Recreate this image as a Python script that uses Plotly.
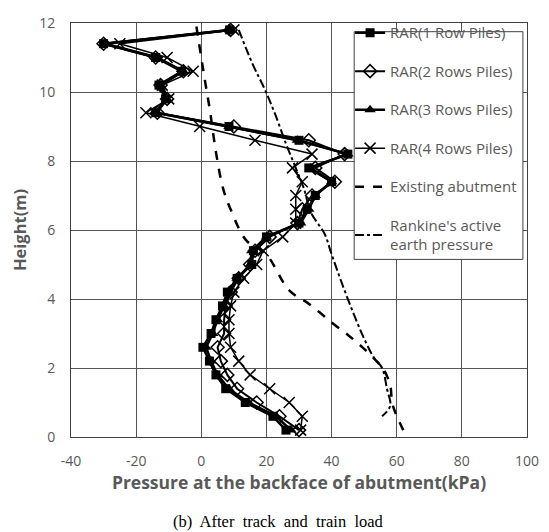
import plotly.graph_objects as go

# heights of the RAR readings (m)
height = [11.8, 11.4, 11.0, 10.6, 10.2, 9.8, 9.4, 9.0, 8.6, 8.2, 7.8, 7.4, 7.0, 6.6, 6.2,
          5.8, 5.4, 5.0, 4.6, 4.2, 3.8, 3.4, 3.0, 2.6, 2.2, 1.8, 1.4, 1.0, 0.6, 0.2]

rar_1row = [8.7, -30, -14, -6, -13, -11, -14, 8.5, 30, 45, 33, 40, 35, 32.5, 30,
            20, 16, 15.5, 11, 8, 6.5, 4.5, 3, 0.5, 2.5, 4.5, 7.5, 13.5, 22, 26]
rar_2rows = [9, -30, -14, -5.5, -12.5, -10.5, -13.5, 10, 33, 44, 35, 41, 34, 31, 29.5,
             21, 16.5, 15, 11.5, 9, 7.5, 7, 7, 5, 6, 8, 11, 17, 24, 30]
rar_3rows = [8.7, -29.5, -13.5, -5.5, -12.5, -10.5, -14, 8.5, 29.5, 45, 33.5, 40, 35, 33, 30.5,
             20, 15.5, 15, 11, 8.5, 7, 5, 3.5, 1.5, 3, 5, 8.5, 14.5, 23, 27.5]
rar_4rows = [10, -25, -10.5, -2.5, -12, -10, -17, -0.5, 16.5, 34, 28, 31, 29, 29, 29,
             25, 19, 17, 13, 10, 9, 8.5, 8.5, 9, 11.5, 15, 21, 27, 31, 30.5]

existing_p = [-1.5, 1, 2.6, 4.6, 6.7, 9, 13.8, 19.9, 27, 33.2, 40.3, 45.4, 49.5, 53.1, 56, 58, 58.7, 62]
existing_h = [11.9, 10.4, 9.5, 8.2, 7.2, 6.6, 5.7, 5.3, 4.25, 3.85, 3.3, 2.93, 2.6, 2.27, 1.95, 1.5, 0.95, 0.2]

rankine_p = [11.5, 15.8, 19.4, 22.5, 26, 29, 31.5, 33.7, 37.8, 40, 43, 47.5, 50.5, 53, 55.5, 57, 58, 55.5]
rankine_h = [11.8, 10.8, 10.1, 9.4, 8.5, 7.8, 7.2, 6.5, 5.9, 5.3, 4.5, 3.4, 2.75, 2.3, 2.0, 1.4, 0.9, 0.6]

x_ticks = [-40, -20, 0, 20, 40, 60, 80, 100]
x_ticktext = ["-40", "-20", "0", "20", "40", "60", "80", "100"]

FONT = "Open Sans"
GREY = "#595959"

fig = go.Figure()

series = [
    ("RAR(1 Row Piles)", rar_1row, dict(symbol="square", size=9, color="black"), 2.5),
    ("RAR(2 Rows Piles)", rar_2rows, dict(symbol="diamond-open", size=10, color="black",
                                         line=dict(width=1.5)), 2.0),
    ("RAR(3 Rows Piles)", rar_3rows, dict(symbol="triangle-up", size=10, color="black"), 2.5),
    ("RAR(4 Rows Piles)", rar_4rows, dict(symbol="x-thin", size=11, color="black",
                                         line=dict(width=1.5, color="black")), 1.5),
]
for i, (name, vals, marker, lw) in enumerate(series):
    fig.add_trace(go.Scatter(
        x=vals, y=height, mode="lines+markers", name=name,
        line=dict(color="black", width=lw), marker=marker, legendgroup=str(i)
    ))

fig.add_trace(go.Scatter(
    x=existing_p, y=existing_h, mode="lines", name="Existing abutment",
    line=dict(color="black", width=2.5, dash="dash", shape="spline"), legendgroup="4"
))
fig.add_trace(go.Scatter(
    x=rankine_p, y=rankine_h, mode="lines", name="Rankine's active<br>earth pressure",
    line=dict(color="black", width=2, dash="dashdot", shape="spline"), legendgroup="5"
))

# the page body has an 8px margin, so the figure is 8px smaller and shifted
fig.update_layout(
    width=541, height=524,
    margin=dict(l=63, r=22, t=5, b=95),
    paper_bgcolor="white", plot_bgcolor="white",
    font=dict(family=FONT, color=GREY, size=14),
    showlegend=True,
    legend=dict(
        x=0.612, y=1.016, xanchor="left", yanchor="top",
        bgcolor="rgba(0,0,0,0)", borderwidth=0,
        font=dict(family=FONT, size=15, color=GREY),
        traceorder="grouped", tracegroupgap=16, itemwidth=30,
    ),
    shapes=[dict(
        type="rect", xref="paper", yref="paper", x0=0.621, x1=0.991, y0=0.429, y1=0.979,
        fillcolor="white", line=dict(color="#404040", width=1), layer="above",
    )],
    xaxis=dict(
        range=[-40, 100], tickvals=x_ticks, ticktext=x_ticktext,
        showgrid=True, gridcolor="#555555", gridwidth=1,
        showline=True, linecolor="#404040", mirror=True, zeroline=False,
        ticks="", ticklabelstandoff=11,
        title=dict(text="<b>Pressure at the backface of abutment(kPa)</b>",
                   font=dict(size=17.5, color=GREY), standoff=5),
    ),
    yaxis=dict(
        range=[0, 12], dtick=2, showgrid=True, gridcolor="#555555", gridwidth=1,
        showline=True, linecolor="#404040", mirror=True, zeroline=False,
        ticks="", ticklabelstandoff=12,
        title=dict(text="<b>Height(m)</b>", font=dict(size=16.5, color=GREY), standoff=12),
    ),
    annotations=[dict(
        text="(b)\u00a0 After\u00a0 track\u00a0 and\u00a0 train\u00a0 load",
        xref="paper", yref="paper", x=0.455, y=-0.205, xanchor="center", yanchor="middle",
        showarrow=False, font=dict(family="Liberation Serif", size=16.5, color="black"),
    )],
)

fig.write_html("out.html")
